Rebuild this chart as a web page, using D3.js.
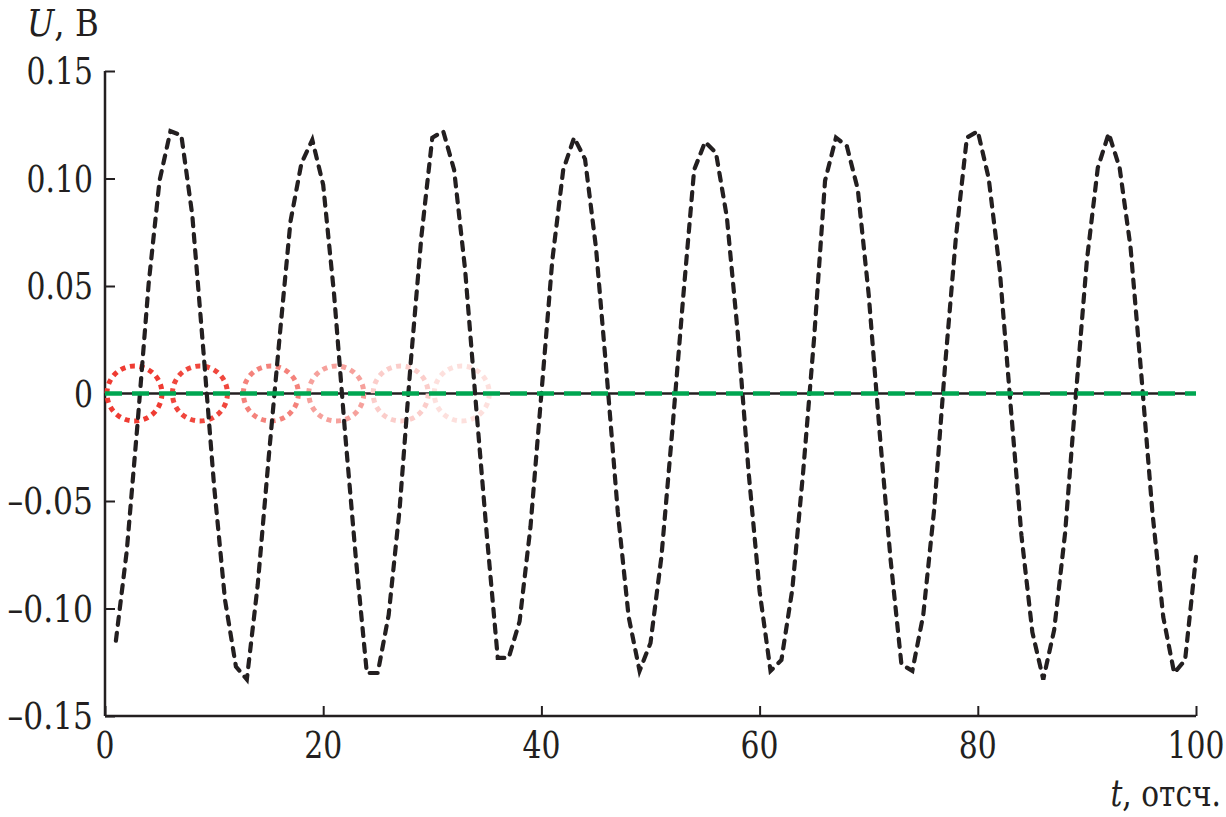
<!DOCTYPE html>
<html>
<head>
<meta charset="utf-8">
<script src="https://cdn.jsdelivr.net/npm/d3@7"></script>
<style>
  body { margin: 0; background: #fff; }
</style>
</head>
<body>
<svg id="chart" width="1226" height="817"></svg>
<script>
// sample index t = 1..100
const signalT = d3.range(1, 101);
const signalU = [
  -0.115, -0.073, -0.013, 0.051, 0.099, 0.122, 0.120, 0.083, 0.021, -0.043,
  -0.096, -0.127, -0.133, -0.089, -0.030, 0.026, 0.080, 0.107, 0.118, 0.097,
  0.046, -0.018, -0.077, -0.130, -0.130, -0.103, -0.054, 0.013, 0.073, 0.119,
  0.122, 0.104, 0.058, -0.005, -0.066, -0.123, -0.123, -0.106, -0.062, 0.000,
  0.062, 0.104, 0.119, 0.109, 0.068, 0.008, -0.055, -0.104, -0.129, -0.116,
  -0.076, -0.017, 0.045, 0.104, 0.117, 0.112, 0.082, 0.028, -0.037, -0.092,
  -0.129, -0.124, -0.091, -0.036, 0.026, 0.099, 0.119, 0.115, 0.095, 0.046,
  -0.018, -0.077, -0.126, -0.129, -0.103, -0.054, 0.013, 0.073, 0.119, 0.122,
  0.100, 0.058, -0.005, -0.066, -0.111, -0.133, -0.110, -0.065, 0.000, 0.062,
  0.105, 0.121, 0.105, 0.068, 0.008, -0.055, -0.104, -0.130, -0.124, -0.076
];

// zero reference line (black) and estimate (green dashed)
const zeroT = [0, 100];
const zeroU = [0, 0];

// markers (dotted circles), fading red
const markerT = [2.7, 8.7, 15.2, 21.2, 27.1, 32.7];
const markerColors = ["#ef3b32", "#f0473d", "#f4827b", "#f6a19c", "#fbcdca", "#fde0dd"];

const xTicks = [0, 20, 40, 60, 80, 100];
const yTicks = [-0.15, -0.10, -0.05, 0, 0.05, 0.10, 0.15];

const width = 1226, height = 817;
const margin = { top: 71, right: 30, bottom: 101, left: 105 };
const FONT = "'DejaVu Serif', serif";
const FS = 38;
const INK = "#231f20";

// rough Times-like advance widths (em): DejaVu Serif is wider, so labels are squeezed to these
const em = { ".": 0.25, ",": 0.25, " ": 0.25, "\u2013": 0.5, "U": 0.72, "В": 0.667,
             "t": 0.28, "о": 0.5, "т": 0.44, "с": 0.44, "ч": 0.5 };
const fitW = s => Array.from(String(s)).reduce((w, c) => w + (em[c] ?? 0.5), 0) * FS;

const svg = d3.select("#chart");
const x = d3.scaleLinear().domain([0, 100]).range([margin.left, width - margin.right]);
const y = d3.scaleLinear().domain([-0.15, 0.15]).range([height - margin.bottom, margin.top]);

const fmtY = v => v === 0 ? "0" : (v < 0 ? "\u2013" : "") + Math.abs(v).toFixed(2);

// axes with inward ticks
const yAxis = svg.append("g")
  .attr("transform", `translate(${margin.left},0)`)
  .call(d3.axisRight(y).tickValues(yTicks).tickSize(10).tickFormat(""));
const xAxis = svg.append("g")
  .attr("transform", `translate(0,${height - margin.bottom})`)
  .call(d3.axisTop(x).tickValues(xTicks).tickSize(10).tickFormat(""));
[xAxis, yAxis].forEach(a => {
  a.select(".domain").attr("stroke", INK).attr("stroke-width", 2.5);
  a.selectAll(".tick line").attr("stroke", INK).attr("stroke-width", 2);
});
// domain paths without outer tick stubs
yAxis.select(".domain").attr("d", `M0,${y(0.15)}V${y(-0.15)}`);
xAxis.select(".domain").attr("d", `M${x(0)},0H${x(100)}`);

// place a label at (px, py), squeezed horizontally to the target width
function label(px, py, anchor, fill) {
  const g = svg.append("g");
  const t = g.append("text")
    .attr("text-anchor", anchor)
    .style("font-family", FONT)
    .attr("fill", INK).attr("font-size", FS);
  fill(t);
  const natural = t.node().getComputedTextLength();
  const sx = Math.min(1, fitW(t.text()) / natural);
  g.attr("transform", `translate(${px},${py}) scale(${sx},1)`);
  return t;
}

// tick labels
yTicks.forEach(d => label(margin.left - 12, y(d) + 13, "end", t => t.text(fmtY(d))));
xTicks.forEach(d => label(x(d), height - margin.bottom + 42, "middle", t => t.text(d)));

// axis titles
label(27, 36, "start", t => {
  t.append("tspan").attr("font-style", "italic").text("U");
  t.append("tspan").text(", В");
});
label(1221, 806, "end", t => {
  t.append("tspan").attr("font-style", "italic").text("t");
  t.append("tspan").text(", отсч.");
});

const line = d3.line().x(d => x(d[0])).y(d => y(d[1]));

// black zero line
svg.append("path")
  .datum(d3.zip(zeroT, zeroU))
  .attr("d", line)
  .attr("fill", "none")
  .attr("stroke", INK)
  .attr("stroke-width", 2.4);

// dotted red circles
svg.append("g").selectAll("circle").data(markerT).join("circle")
  .attr("cx", d => x(d))
  .attr("cy", y(0))
  .attr("r", 27.5)
  .attr("fill", "none")
  .attr("stroke", (d, i) => markerColors[i])
  .attr("stroke-width", 5)
  .attr("stroke-dasharray", "5 4.6");

// black dashed signal
svg.append("path")
  .datum(d3.zip(signalT, signalU))
  .attr("d", line)
  .attr("fill", "none")
  .attr("stroke", INK)
  .attr("stroke-width", 4.2)
  .attr("stroke-linecap", "round")
  .attr("stroke-dasharray", "8 8");

// green dashed line on top
svg.append("path")
  .datum(d3.zip(zeroT, zeroU))
  .attr("d", line)
  .attr("fill", "none")
  .attr("stroke", "#00a651")
  .attr("stroke-width", 4.4)
  .attr("stroke-dasharray", "17 10");
</script>
</body>
</html>
